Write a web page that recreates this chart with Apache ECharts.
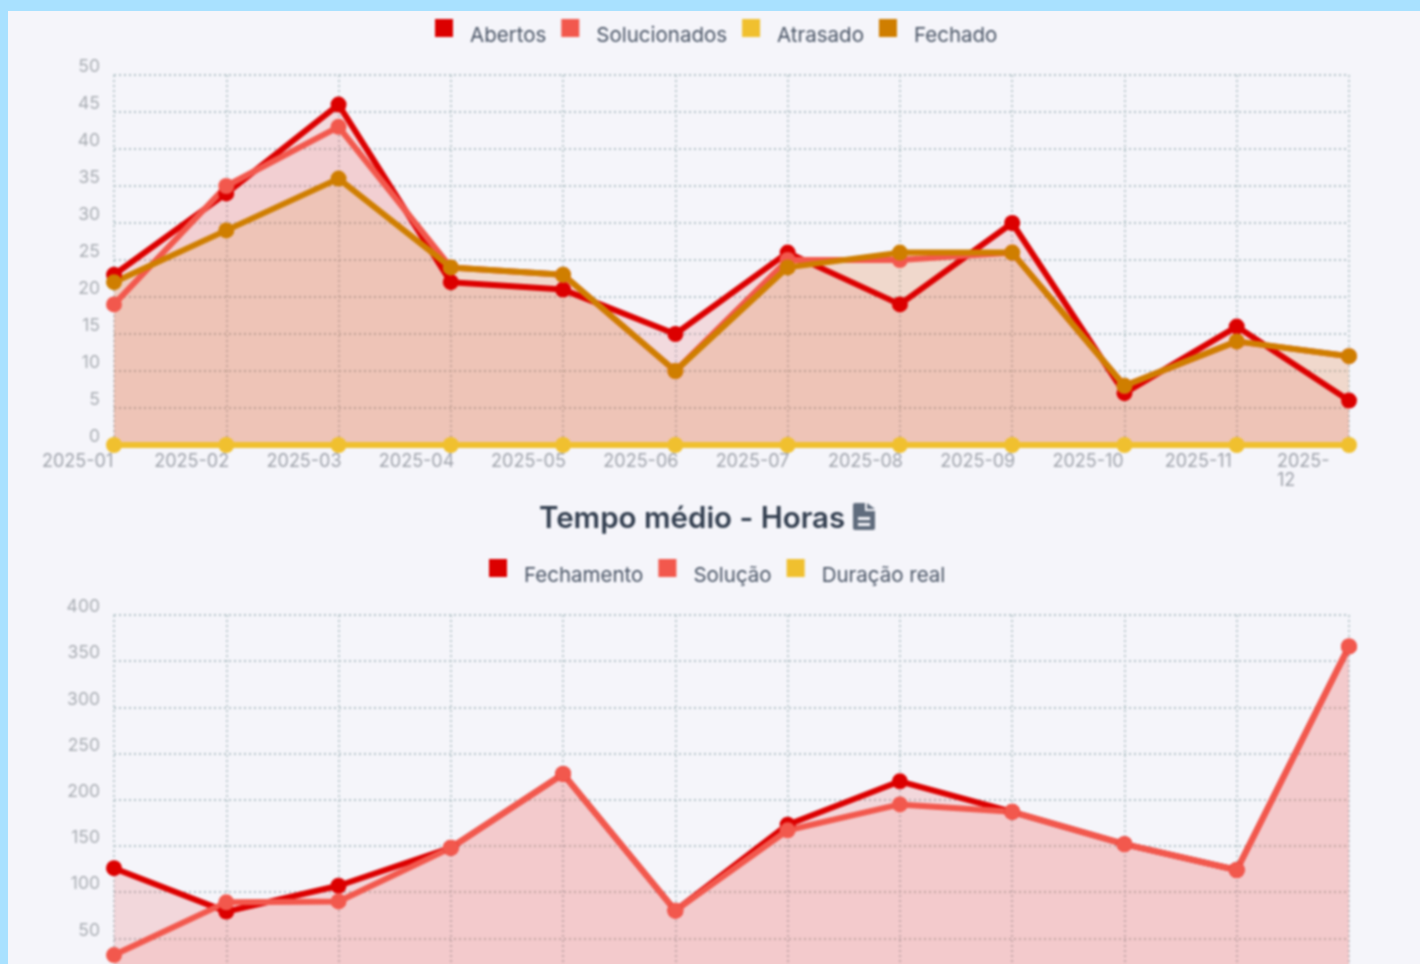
<!DOCTYPE html>
<html>
<head>
<meta charset="utf-8">
<title>Tempo médio - Horas</title>
<script src="https://cdn.jsdelivr.net/npm/echarts@6/dist/echarts.min.js"></script>
<style>
  html, body { margin: 0; height: 964px; overflow: hidden; background: #a9e1ff; }
  #panel { position: absolute; left: 8px; top: 11px; right: 0; height: 1100px; background: #f5f5fa; }
  #chart { position: absolute; left: 0; top: 0; width: 1420px; height: 1060px; filter: blur(1px); }
</style>
</head>
<body>
<div id="panel"></div>
<div id="chart"></div>
<script>
  "use strict";

  var months = ['2025-01', '2025-02', '2025-03', '2025-04', '2025-05', '2025-06',
    '2025-07', '2025-08', '2025-09', '2025-10', '2025-11', '2025-\n12'];

  // status chart
  var abertos = [23, 34, 46, 22, 21, 15, 26, 19, 30, 7, 16, 6];
  var solucionados = [19, 35, 43, 24, 23, 10, 25, 25, 26, 8, 14, 12];
  var atrasado = [0, 0, 0, 0, 0, 0, 0, 0, 0, 0, 0, 0];
  var fechado = [22, 29, 36, 24, 23, 10, 24, 26, 26, 8, 14, 12];

  // tempo medio chart
  var fechamento = [126, 79, 107, 148, 228, 80, 173, 220, 187, 152, 124, 366];
  var solucao = [32, 89, 90, 148, 228, 80, 167, 195, 187, 152, 124, 366];
  var duracaoReal = [0, 0, 0, 0, 0, 0, 0, 0, 0, 0, 0, 0];

  var RED = '#dc0000', CORAL = '#f2584d', YELLOW = '#f0c02f', ORANGE = '#cf7e00';
  var FONT = 'Inter';
  var GRID_LINE = { show: true, lineStyle: { color: '#b4c4c8', width: 1.8, type: [2, 3] } };

  // legend square sits above the text: the empty second subpath makes the box taller
  var LEGEND_ICON = 'path://M0 0H18V18H0ZM0 34H18V34H0Z';

  // file icon next to the title
  echarts.graphic.registerShape('fileIcon', echarts.graphic.extendPath(
    'M0 2Q0 0 2 0H12V8H22V25Q22 27 20 27H2Q0 27 0 25Z' +
    'M5 14V17H17V14ZM5 20V23H17V20Z' +
    'M14 0L22 6H14Z', {}));

  function xAxisFor(gridIndex) {
    return {
      type: 'category', gridIndex: gridIndex, data: months, boundaryGap: false,
      axisLine: { show: false }, axisTick: { show: false }, splitLine: GRID_LINE,
      axisLabel: {
        interval: 0, align: 'right', margin: 7, hideOverlap: false,
        formatter: function (value) {
          return value.split('\n').map(function (s) { return '{a|' + s + '}'; }).join('\n');
        },
        rich: {
          a: { width: 72, align: 'left', fontFamily: FONT, fontSize: 18, lineHeight: 19, color: '#a0a4ac' }
        }
      }
    };
  }

  function yAxisFor(gridIndex, max, interval) {
    return {
      type: 'value', gridIndex: gridIndex, min: 0, max: max, interval: interval,
      axisLine: { show: false }, axisTick: { show: false }, splitLine: GRID_LINE,
      axisLabel: {
        margin: 14, verticalAlign: 'bottom', lineHeight: 16,
        fontFamily: FONT, fontSize: 17.5, color: '#aaaeb4'
      }
    };
  }

  function lineSeries(name, data, color, gridIndex, areaOpacity) {
    return {
      name: name, type: 'line', data: data, xAxisIndex: gridIndex, yAxisIndex: gridIndex,
      symbol: 'circle', symbolSize: 16, clip: false, animation: false,
      itemStyle: { color: color },
      lineStyle: { color: color, width: 6 },
      areaStyle: { color: color, opacity: areaOpacity }
    };
  }

  function legendAt(left, top, names) {
    return {
      left: left, top: top, itemWidth: 18, itemHeight: 34, itemGap: 15, icon: LEGEND_ICON,
      data: names, selectedMode: false,
      textStyle: { fontFamily: FONT, fontSize: 20.5, color: '#4a5566', padding: [0, 0, 0, 12] }
    };
  }

  var chart = echarts.init(document.getElementById('chart'));

  chart.setOption({
    backgroundColor: 'transparent',
    animation: false,
    title: {
      text: 'Tempo médio - Horas', left: 534, top: 499,
      textStyle: { fontFamily: FONT, fontSize: 29.5, fontWeight: 600, color: '#333f50' }
    },
    legend: [
      legendAt(430, 14, ['Abertos', 'Solucionados', 'Atrasado', 'Fechado']),
      legendAt(484, 554, ['Fechamento', 'Solução', 'Duração real'])
    ],
    grid: [
      { left: 114, top: 75, width: 1235, height: 370 },
      { left: 114, top: 615, width: 1235, height: 369.6 }
    ],
    xAxis: [xAxisFor(0), xAxisFor(1)],
    yAxis: [yAxisFor(0, 50, 5), yAxisFor(1, 400, 50)],
    series: [
      lineSeries('Abertos', abertos, RED, 0, 0.11),
      lineSeries('Solucionados', solucionados, CORAL, 0, 0.09),
      lineSeries('Atrasado', atrasado, YELLOW, 0, 0.1),
      lineSeries('Fechado', fechado, ORANGE, 0, 0.13),
      lineSeries('Fechamento', fechamento, RED, 1, 0.12),
      lineSeries('Solução', solucao, CORAL, 1, 0.11),
      lineSeries('Duração real', duracaoReal, YELLOW, 1, 0.1)
    ],
    graphic: [{
      type: 'fileIcon', x: 853, y: 503,
      style: { fill: '#606c7d' }
    }]
  });
</script>
</body>
</html>
